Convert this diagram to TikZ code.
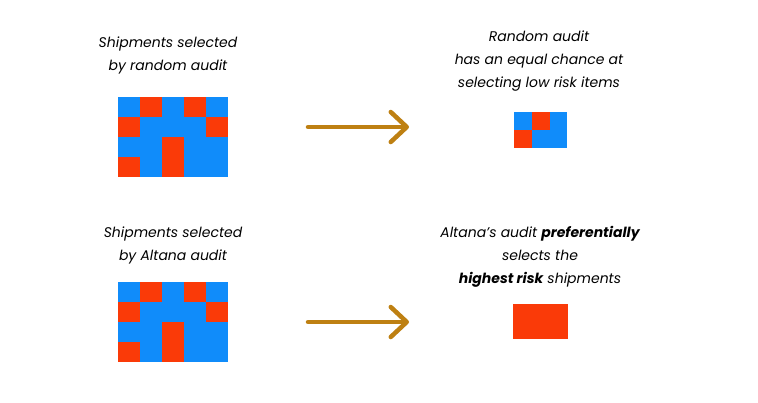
\documentclass[tikz,border=0pt]{standalone}
\usepackage{fontspec}
\setmainfont{Poppins}
\usetikzlibrary{arrows.meta}
\definecolor{shipblue}{RGB}{16,140,250}
\definecolor{shipred}{RGB}{250,58,8}
\definecolor{arrowgold}{RGB}{190,128,18}
\tikzset{
  caption/.style={font=\fontsize{14}{23}\selectfont\itshape, align=center, inner sep=0pt, anchor=base},
  flow/.style={arrowgold, line width=4.5pt, line cap=round,
    -{Straight Barb[length=16pt,width=30pt,line cap=round,round]}}
}
\newcommand{\shipgrid}[2]{%
  \fill[shipblue] (#1,#2) rectangle ++(110,80);
  \foreach \c/\r in {1/0,3/0,0/1,4/1,2/2,0/3,2/3}
    \fill[shipred] ({#1+22*\c},{#2+20*\r}) rectangle ++(22,20);
}
\begin{document}
\begin{tikzpicture}[x=1pt,y=-1pt]
  \useasboundingbox[fill=white] (0,0) rectangle (758,402);
  \node[caption] (randomLabel) at (168,70) {Shipments selected\\by random audit};
  \node[caption] (randomResult) at (539,87) {Random audit\\has an equal chance at\\selecting low risk items};
  \node[caption] (altanaLabel) at (173,260) {Shipments selected\\by Altana audit};
  \node[caption] (altanaResult) at (540,283) {Altana’s audit \textbf{preferentially}\\selects the\\\textbf{highest risk} shipments};
  \shipgrid{118}{97}
  \shipgrid{118}{282}
  \fill[shipblue] (514,112) rectangle (567,148);
  \fill[shipred] (532,112) rectangle (550,130);
  \fill[shipred] (514,130) rectangle (532,148);
  \fill[shipred] (513,304) rectangle (568,339);
  \coordinate (randomFrom) at (308,127);
  \coordinate (randomTo) at (409,127);
  \coordinate (altanaFrom) at (308,322);
  \coordinate (altanaTo) at (409,322);
  \draw[flow] (randomFrom) -- (randomTo);
  \draw[flow] (altanaFrom) -- (altanaTo);
\end{tikzpicture}
\end{document}
